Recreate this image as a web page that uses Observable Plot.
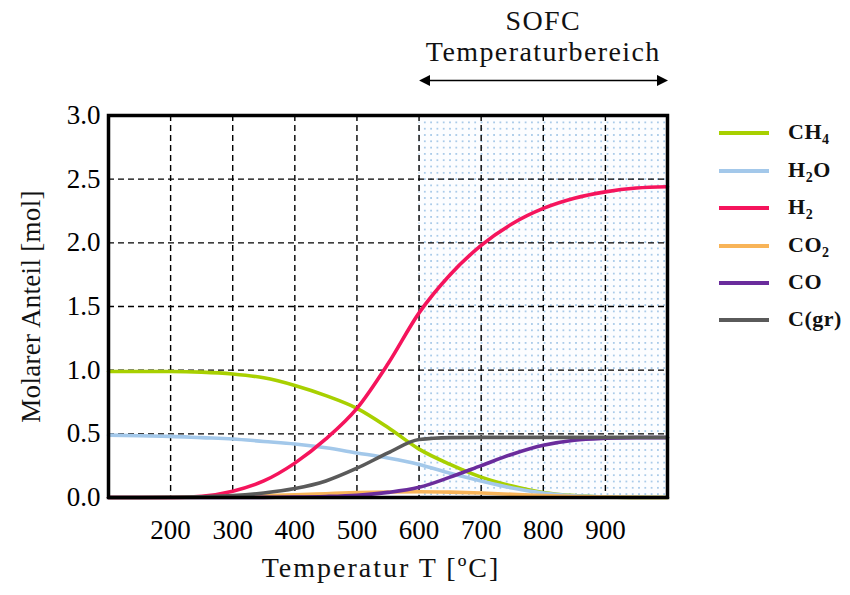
<!DOCTYPE html>
<html>
<head>
<meta charset="utf-8">
<script src="https://cdn.jsdelivr.net/npm/d3@7"></script>
<script src="https://cdn.jsdelivr.net/npm/@observablehq/plot@0.6"></script>
<style>
  html, body { margin: 0; padding: 0; background: #fff; }
  #wrap { position: relative; width: 850px; height: 595px; font-family: "Liberation Serif", serif; }
  #legend { position: absolute; left: 719px; top: 0; }
  .li { position: absolute; left: 0; width: 140px; height: 20px; }
  .li .ln { position: absolute; left: 0; top: 8px; width: 50px; height: 4px; }
  .li .tx { position: absolute; left: 69px; top: -4px; font-weight: bold; font-size: 22px; letter-spacing: 0.5px; white-space: nowrap; color: #111; line-height: 26px; }
  .li sub { font-size: 14px; vertical-align: -5px; line-height: 0; }
</style>
</head>
<body>
<div id="wrap"><div id="chart"></div><div id="legend"></div></div>
<script>
const temps = [100,150,200,250,300,350,400,450,500,550,600,650,700,750,800,850,900,950,1000];
const ch4  = [0.99,0.99,0.99,0.985,0.97,0.94,0.88,0.80,0.70,0.55,0.38,0.26,0.16,0.09,0.04,0.015,0.004,0.001,0];
const h2o  = [0.49,0.485,0.48,0.47,0.46,0.44,0.42,0.39,0.35,0.31,0.26,0.19,0.13,0.075,0.035,0.013,0.004,0.001,0];
const h2   = [0,0,0,0.01,0.05,0.13,0.27,0.46,0.70,1.05,1.45,1.75,1.98,2.15,2.27,2.35,2.40,2.43,2.44];
const co2  = [0,0,0.001,0.003,0.008,0.015,0.022,0.03,0.038,0.043,0.045,0.042,0.035,0.025,0.015,0.007,0.003,0.001,0];
const co   = [0,0,0,0,0,0.001,0.003,0.008,0.018,0.04,0.08,0.16,0.25,0.34,0.41,0.45,0.465,0.47,0.47];
const cgr  = [0,0,0.002,0.006,0.015,0.035,0.07,0.13,0.23,0.35,0.455,0.47,0.472,0.472,0.472,0.472,0.472,0.472,0.472];

const seriesNames = ["CH4","H2O","H2","CO2","CO","C(gr)"];
const seriesLabels = ["CH<sub>4</sub>","H<sub>2</sub>O","H<sub>2</sub>","CO<sub>2</sub>","CO","C(gr)"];
const seriesColors = ["#a8d000","#a3c8ea","#f5145c","#f8b458","#6a2c9c","#5a5a5a"];
const seriesValues = [ch4, h2o, h2, co2, co, cgr];

const xTicks = [200,300,400,500,600,700,800,900];
const yTicks = [0,0.5,1.0,1.5,2.0,2.5,3.0];
const yGrid = [0.5,1.0,1.5,2.0,2.5];
const sofcRange = [600, 1000];

const rows = [];
seriesNames.forEach((s, i) => temps.forEach((t, j) => rows.push({series: s, T: t, v: seriesValues[i][j]})));

const serif = "'Liberation Serif', serif";

const chart = Plot.plot({
  width: 850,
  height: 595,
  marginLeft: 108,
  marginRight: 183,
  marginTop: 115,
  marginBottom: 98,
  style: {fontFamily: serif, background: "white", overflow: "visible"},
  x: {domain: [100, 1000]},
  y: {domain: [0, 3]},
  color: {domain: seriesNames, range: seriesColors},
  marks: [
    Plot.rect([sofcRange], {x1: d => d[0], x2: d => d[1], y1: 0, y2: 3, fill: "url(#dots)"}),
    Plot.ruleX(xTicks, {stroke: "#000", strokeWidth: 1.4, strokeDasharray: "6,4"}),
    Plot.ruleY(yGrid, {stroke: "#000", strokeWidth: 1.4, strokeDasharray: "6,4"}),
    Plot.line(rows, {x: "T", y: "v", z: "series", stroke: "series", strokeWidth: 3.6, curve: "monotone-x"}),
    Plot.frame({stroke: "#000", strokeWidth: 3.5}),
    Plot.axisX({ticks: xTicks, tickSize: 0, tickPadding: 22, fontSize: 27, label: null, tickFormat: d => String(d)}),
    Plot.axisY({ticks: yTicks, tickSize: 0, tickPadding: 8, fontSize: 27, label: null, tickFormat: d => d.toFixed(1)}),
    Plot.text(["Temperatur T [ºC]"], {frameAnchor: "bottom", textAnchor: "middle", dx: -7, dy: 79, fontSize: 28, fill: "#111", className: "xlab"}),
    Plot.text(["Molarer Anteil [mol]"], {frameAnchor: "left", textAnchor: "middle", rotate: -90, dx: -77, fontSize: 27, fill: "#111", className: "ylab"}),
    Plot.text(["SOFC"], {x: 800, y: 3.74, fontSize: 28, fill: "#111", clip: false, className: "ttl"}),
    Plot.text(["Temperaturbereich"], {x: 800, y: 3.5, fontSize: 28, fill: "#111", clip: false, className: "ttl"}),
    Plot.link([sofcRange], {x1: d => d[0] + 14.5, x2: d => d[1] - 13.5, y1: 3.275, y2: 3.275, stroke: "#000", strokeWidth: 1.6, className: "sofc-arrow"})
  ]
});

// dot pattern + filled arrowheads + letter spacing
const svg = d3.select(chart);
const defs = svg.insert("defs", ":first-child");
const pat = defs.append("pattern").attr("id", "dots").attr("patternUnits", "userSpaceOnUse")
  .attr("width", 6.3).attr("height", 6.3);
pat.append("rect").attr("width", 6.3).attr("height", 6.3).attr("fill", "#fcfdff");
pat.append("rect").attr("x", 2).attr("y", 2).attr("width", 1.4).attr("height", 1.4).attr("fill", "#74abdc");
defs.append("marker").attr("id", "ah").attr("viewBox", "0 0 10 10").attr("refX", 2).attr("refY", 5)
  .attr("markerWidth", 7).attr("markerHeight", 7).attr("markerUnits", "strokeWidth").attr("orient", "auto-start-reverse")
  .append("path").attr("d", "M0,0 L10,5 L0,10 z").attr("fill", "#000");
svg.selectAll(".sofc-arrow path, .sofc-arrow line").attr("marker-start", "url(#ah)").attr("marker-end", "url(#ah)");
svg.selectAll(".xlab text").style("letter-spacing", "2px");
svg.selectAll(".ttl text").style("letter-spacing", "1.4px");
svg.selectAll(".ylab text").style("letter-spacing", "0.3px");

document.getElementById("chart").appendChild(chart);

// legend
const legendY = [133, 171, 208, 246, 283, 320];
const legend = document.getElementById("legend");
seriesNames.forEach((s, i) => {
  const el = document.createElement("div");
  el.className = "li";
  el.style.top = (legendY[i] - 10) + "px";
  el.innerHTML = `<div class="ln" style="background:${seriesColors[i]}"></div><div class="tx">${seriesLabels[i]}</div>`;
  legend.appendChild(el);
});
</script>
</body>
</html>
